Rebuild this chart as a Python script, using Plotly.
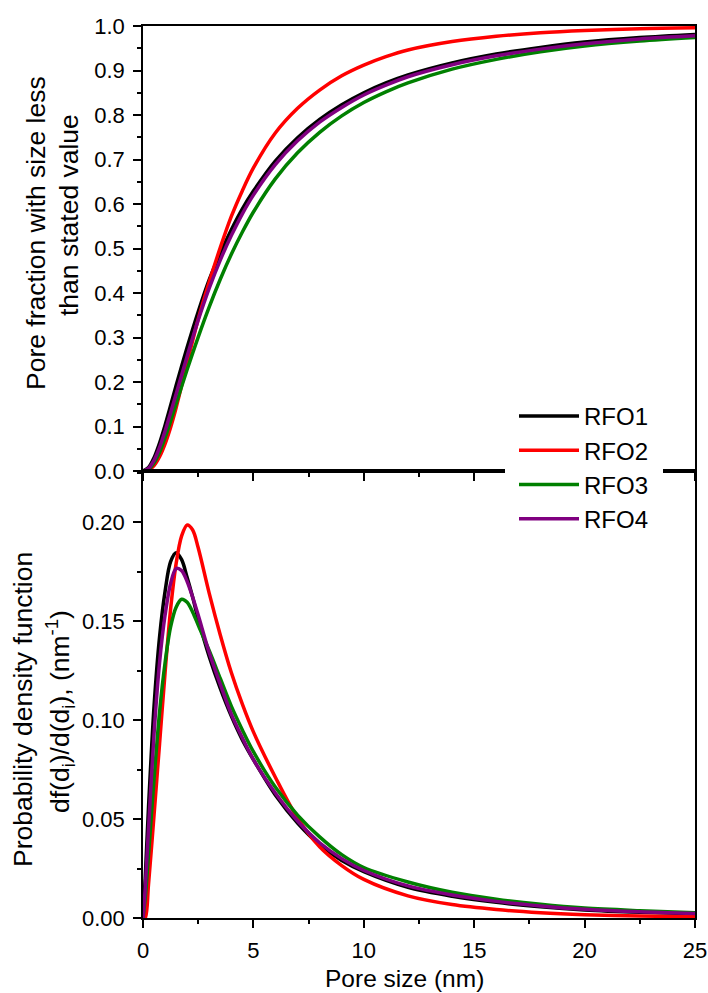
import plotly.graph_objects as go

# Pore size grid (nm) for the cumulative curves
x_cdf = [0, 0.25, 0.5, 0.75, 1.0, 1.25, 1.5, 2.0, 2.5, 3.0, 3.5, 4.0, 4.5, 5, 6, 7, 8, 9,
         10, 11, 12, 14, 16, 18, 20, 22.5, 25]
cdf_rfo1 = [0, 0.008, 0.03, 0.063, 0.103, 0.147, 0.192, 0.278, 0.358, 0.43, 0.489, 0.542,
            0.589, 0.629, 0.697, 0.749, 0.79, 0.823, 0.85, 0.872, 0.89, 0.917, 0.937,
            0.952, 0.964, 0.974, 0.981]
cdf_rfo2 = [0, 0.002, 0.012, 0.032, 0.061, 0.098, 0.142, 0.243, 0.341, 0.425, 0.502, 0.572,
            0.630, 0.681, 0.760, 0.815, 0.856, 0.888, 0.912, 0.931, 0.946, 0.965, 0.977,
            0.985, 0.990, 0.994, 0.996]
cdf_rfo3 = [0, 0.004, 0.018, 0.042, 0.075, 0.112, 0.151, 0.228, 0.301, 0.369, 0.431, 0.487,
            0.537, 0.582, 0.657, 0.715, 0.761, 0.798, 0.828, 0.852, 0.872, 0.903, 0.925,
            0.942, 0.955, 0.966, 0.974]
cdf_rfo4 = [0, 0.006, 0.024, 0.053, 0.09, 0.131, 0.173, 0.258, 0.339, 0.411, 0.474, 0.529,
            0.578, 0.620, 0.689, 0.742, 0.784, 0.817, 0.845, 0.867, 0.886, 0.913, 0.933,
            0.948, 0.960, 0.971, 0.978]

# Pore size grid (nm) for the probability density curves
x_pdf = [0, 0.1, 0.25, 0.5, 0.75, 1.0, 1.25, 1.5, 1.75, 2.0, 2.25, 2.5, 3.0, 3.5, 4.0, 4.5,
         5, 6, 7, 8, 9, 10, 12, 14, 16, 18, 20, 22.5, 25]
pdf_rfo1 = [0, 0.02, 0.056, 0.107, 0.142, 0.165, 0.180, 0.1845, 0.181, 0.172, 0.162, 0.151,
            0.132, 0.116, 0.102, 0.090, 0.080, 0.062, 0.048, 0.037, 0.029, 0.0234, 0.0155,
            0.011, 0.0079, 0.0057, 0.0041, 0.0029, 0.0021]
pdf_rfo2 = [0, 0.0, 0.017, 0.052, 0.088, 0.124, 0.156, 0.179, 0.193, 0.1985, 0.196, 0.187,
            0.164, 0.143, 0.124, 0.108, 0.094, 0.071, 0.0505, 0.036, 0.0265, 0.0195, 0.0112,
            0.0068, 0.0043, 0.0027, 0.0017, 0.0010, 0.0006]
pdf_rfo3 = [0, 0.01, 0.032, 0.07, 0.104, 0.129, 0.147, 0.157, 0.161, 0.1595, 0.1545, 0.148,
            0.135, 0.121, 0.107, 0.095, 0.084, 0.066, 0.052, 0.041, 0.032, 0.0255, 0.0182,
            0.0130, 0.0095, 0.0069, 0.0050, 0.0037, 0.0027]
pdf_rfo4 = [0, 0.015, 0.045, 0.093, 0.129, 0.153, 0.169, 0.1765, 0.1755, 0.170, 0.162, 0.153,
            0.134, 0.118, 0.103, 0.091, 0.080, 0.063, 0.049, 0.038, 0.030, 0.024, 0.0162,
            0.0116, 0.0084, 0.0061, 0.0044, 0.0031, 0.0023]

names = ["RFO1", "RFO2", "RFO3", "RFO4"]
colors = ["#000000", "#ff0000", "#008000", "#800080"]
cdfs = [cdf_rfo1, cdf_rfo2, cdf_rfo3, cdf_rfo4]
pdfs = [pdf_rfo1, pdf_rfo2, pdf_rfo3, pdf_rfo4]

FONT = "Arial, Liberation Sans, sans-serif"
LW = 3.5

fig = go.Figure()
for name, col, ys in zip(names, colors, cdfs):
    fig.add_trace(go.Scatter(x=x_cdf, y=ys, mode="lines", name=name, legendgroup=name,
                             line=dict(color=col, width=LW, shape="spline", smoothing=0.9),
                             xaxis="x", yaxis="y"))
for name, col, ys in zip(names, colors, pdfs):
    fig.add_trace(go.Scatter(x=x_pdf, y=ys, mode="lines", name=name, legendgroup=name,
                             showlegend=False,
                             line=dict(color=col, width=LW, shape="spline", smoothing=0.9),
                             xaxis="x2", yaxis="y2"))

split = (918 - 471) / 892

axis_common = dict(showline=True, linecolor="black", linewidth=1.6, mirror=True,
                   ticks="outside", ticklen=8, tickwidth=1.5, tickcolor="black",
                   showgrid=False, zeroline=False, automargin=False,
                   tickfont=dict(family=FONT, size=22, color="black"))
minor_x = dict(dtick=2.5, ticks="outside", ticklen=4, tickcolor="black")

fig.update_layout(
    width=708, height=993,
    margin=dict(l=143, r=13, t=26, b=75),
    paper_bgcolor="white", plot_bgcolor="white",
    font=dict(family=FONT, size=22, color="black"),
    xaxis=dict(domain=[0, 1], anchor="y", range=[0, 25], dtick=5, showticklabels=False,
               minor=minor_x, **axis_common),
    yaxis=dict(domain=[split, 1], anchor="x", range=[0, 1.0], dtick=0.1, tickformat=".1f",
               ticklabelstandoff=4,
               minor=dict(dtick=0.05, ticks="outside", ticklen=4, tickcolor="black"),
               **axis_common),
    xaxis2=dict(domain=[0, 1], anchor="y2", range=[0, 25], dtick=5, ticklabelstandoff=4,
                minor=minor_x, **axis_common),
    yaxis2=dict(domain=[0, split], anchor="x2", range=[0, 0.2258], dtick=0.05,
                tickformat=".2f", ticklabelstandoff=4,
                minor=dict(dtick=0.025, ticks="outside", ticklen=4, tickcolor="black"),
                **axis_common),
    legend=dict(x=(505 - 143) / 552, xanchor="left", y=(918 - 385) / 892, yanchor="top",
                bgcolor="white", bordercolor="white", borderwidth=9, itemwidth=60,
                tracegroupgap=0, font=dict(family=FONT, size=24, color="black")),
    showlegend=True,
)

def title_line(text, px_x, px_y, size, angle=-90):
    fig.add_annotation(text=text, xref="paper", yref="paper",
                       x=(px_x - 143) / 552, y=(918 - px_y) / 892,
                       xanchor="center", yanchor="middle", textangle=angle,
                       showarrow=False, font=dict(family=FONT, size=size, color="black"))

title_line("Pore fraction with size less", 36, 233, 26.5)
title_line("than stated value", 69, 215, 26.5)
title_line("Probability density function", 23, 710, 26.5)
title_line("df(d<sub>i</sub>)/d(d<sub>i</sub>), (nm<sup>-1</sup>)", 60, 712, 26.5)
title_line("Pore size (nm)", 404, 978, 24.5, angle=0)

fig.write_html("out.html")
